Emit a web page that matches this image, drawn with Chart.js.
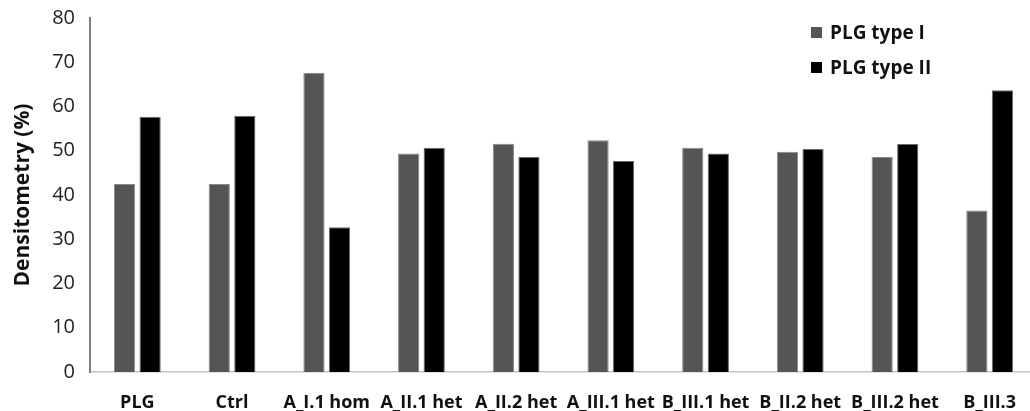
<!DOCTYPE html>
<html>
<head>
<meta charset="utf-8">
<script src="https://cdn.jsdelivr.net/npm/chart.js@4"></script>
<style>
  html, body { margin: 0; padding: 0; background: #fff; overflow: hidden; }
  #wrap { width: 1037px; height: 420px; margin-top: -9px; }
</style>
</head>
<body>
<div id="wrap"><canvas id="bar"></canvas></div>
<script>
const categories = ["PLG", "Ctrl", "A_I.1 hom", "A_II.1 het", "A_II.2 het", "A_III.1 het", "B_III.1 het", "B_II.2 het", "B_III.2 het", "B_III.3"];
const typeOne = [42.5, 42.5, 67.6, 49.4, 51.6, 52.4, 50.7, 49.8, 48.6, 36.5];
const typeTwo = [57.7, 57.9, 32.7, 50.7, 48.6, 47.7, 49.4, 50.4, 51.5, 63.7];
const seriesNames = ["PLG type I", "PLG type II"];

const ctx = document.getElementById("bar");

// legend drawn inside the plot, top right (canvas is shifted up 9px)
const insideLegend = {
  id: "insideLegend",
  afterDraw(chart) {
    const c = chart.ctx;
    c.save();
    c.font = "bold 19px 'Open Sans'";
    c.textBaseline = "middle";
    chart.data.datasets.forEach((ds, i) => {
      const y = 9 + 33 + i * 35;
      c.fillStyle = ds.backgroundColor;
      c.fillRect(811, y - 6, 11, 11);
      c.fillStyle = "#111";
      c.fillText(ds.label, 830, y + 1);
    });
    c.restore();
  }
};

new Chart(ctx, {
  type: "bar",
  data: {
    labels: categories,
    datasets: [
      {
        label: seriesNames[0],
        data: typeOne,
        backgroundColor: "#555555",
        borderColor: "#8a8a8a",
        borderWidth: 1,
      },
      {
        label: seriesNames[1],
        data: typeTwo,
        backgroundColor: "#000000",
        borderColor: "#6a6a6a",
        borderWidth: 1,
      },
    ],
  },
  options: {
    responsive: true,
    maintainAspectRatio: false,
    animation: false,
    categoryPercentage: 0.54,
    barPercentage: 0.83,
    layout: { padding: { top: 5, right: 0, left: 0, bottom: 0 } },
    plugins: {
      legend: { display: false },
      tooltip: { enabled: false },
    },
    scales: {
      x: {
        grid: { display: false, drawTicks: false },
        border: { display: true, color: "#c4c4c4", width: 1.5 },
        ticks: {
          color: "#111",
          font: { family: "Open Sans", size: 18, weight: "bold" },
          padding: 20,
          maxRotation: 0,
          autoSkip: false,
        },
        afterFit(scale) { scale.height = 39; },
      },
      y: {
        min: 0,
        max: 80,
        grid: { display: false, drawTicks: false },
        border: { display: true, color: "#808080", width: 2 },
        ticks: {
          stepSize: 10,
          color: "#222",
          font: { family: "Open Sans", size: 20 },
          padding: 15,
        },
        title: {
          display: true,
          text: "Densitometry (%)",
          color: "#111",
          font: { family: "Open Sans", size: 21, weight: "bold" },
          padding: { top: 10, bottom: 0 },
        },
        afterFit(scale) { scale.width = 90; },
      },
    },
  },
  plugins: [insideLegend],
});
</script>
</body>
</html>
